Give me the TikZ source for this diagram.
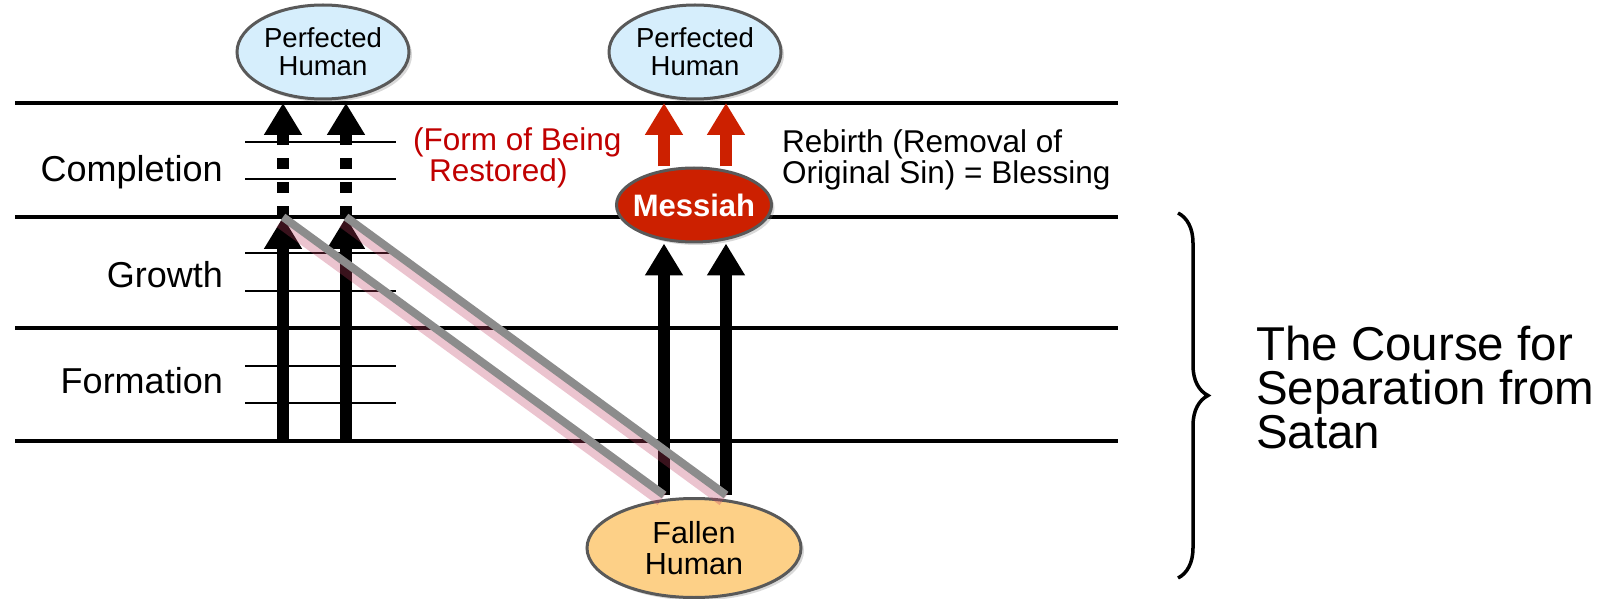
\documentclass[tikz,border=0pt]{standalone}
\usepackage{fontspec}
\setmainfont{Liberation Sans}
\usetikzlibrary{calc,arrows.meta,shapes.geometric,shadows,decorations.pathreplacing}

\definecolor{skyfill}{RGB}{214,238,252}
\definecolor{fallenfill}{RGB}{253,208,135}
\definecolor{messiahred}{RGB}{204,32,0}
\definecolor{notered}{RGB}{192,0,0}
\definecolor{rimgray}{RGB}{89,89,89}
\definecolor{glowpink}{RGB}{190,60,95}

\begin{document}
\begin{tikzpicture}[x=1pt,y=1pt,
  human/.style={ellipse, draw=rimgray, line width=3pt, inner sep=0pt, align=center,
    drop shadow={shadow xshift=3pt, shadow yshift=-3pt, opacity=0.3}},
  rule/.style={line width=4pt},
  tick/.style={line width=1.6pt},
  blkarrow/.style={line width=12pt, -{Triangle[width=36pt,length=32pt]}},
  redarrow/.style={blkarrow, messiahred},
  graylink/.style={line width=8pt, gray!90},
  glow/.style={line width=15pt, glowpink, opacity=0.3},
  stage/.style={anchor=base east, inner sep=0pt, font=\fontsize{36}{40}\selectfont},
  remark/.style={anchor=west, inner sep=0pt, align=left, font=\fontsize{31.5}{29}\selectfont}]
  \useasboundingbox (0,0) rectangle (1604,598);

  % Stage rules
  \foreach \y/\n in {495/top, 381/cg, 270/gf, 157/base}
    \draw[rule] (15,\y) coordinate (\n-l) -- (1118,\y);
  \foreach \y in {456,419,345,307,232,195}
    \draw[tick] (245,\y) -- (396,\y);

  % Stage labels
  \node[stage] (completion) at (223,416) {Completion};
  \node[stage] (growth) at (223,310) {Growth};
  \node[stage] (formation) at (223,205) {Formation};

  % Humans and Messiah
  \node[human, fill=skyfill, minimum width=172pt, minimum height=94pt,
    font=\fontsize{27.5}{28}\selectfont] (perfA) at (323,546) {Perfected\\Human};
  \node[human, fill=skyfill, minimum width=172pt, minimum height=94pt,
    font=\fontsize{27.5}{28}\selectfont] (perfB) at (695,546) {Perfected\\Human};
  \node[human, fill=messiahred, text=white, inner xsep=-7pt, minimum width=155pt, minimum height=74pt,
    font=\fontsize{31}{32}\selectfont\bfseries] (messiah) at (694,393) {Messiah};
  \node[human, fill=fallenfill, minimum width=214pt, minimum height=99pt,
    font=\fontsize{30.5}{31}\selectfont] (fallen) at (694,50) {Fallen\\Human};

  % Arrow feet
  \coordinate (la) at (283,157);
  \coordinate (lb) at (346,157);
  \coordinate (fa) at (664,103);
  \coordinate (fb) at (726,103);

  \foreach \c in {la,lb} {
    \draw[blkarrow] (\c) -- (\c |- cg-l);
    \draw[blkarrow, dash pattern=on 11pt off 13pt] (\c |- cg-l) -- (\c |- top-l);
  }
  \foreach \c in {fa,fb} {
    \draw[blkarrow] (\c) -- (\c |- messiah.south);
    \draw[redarrow] (\c |- messiah.north) -- (\c |- top-l);
  }

  % Links back to the fallen human
  \foreach \c/\f in {la/fa, lb/fb} {
    \draw[glow] ($(\c |- cg-l)+(-2,-4)$) -- ($(\f)+(-2,-4)$);
    \draw[graylink] (\c |- cg-l) -- (\f);
  }

  % Remarks
  \node[remark, text=notered] (restored) at (413,440) {(Form of Being\\\hspace*{16pt}Restored)};
  \node[remark] (rebirth) at (782,438) {Rebirth (Removal of\\Original Sin) = Blessing};
  \node[remark, font=\fontsize{47.5}{44}\selectfont] (course) at (1256,210)
    {The Course for\\Separation from\\Satan};

  % Brace
  \draw[line width=3.5pt, decorate, decoration={brace, amplitude=30pt}] (1178,385) -- (1178,20);
\end{tikzpicture}
\end{document}
